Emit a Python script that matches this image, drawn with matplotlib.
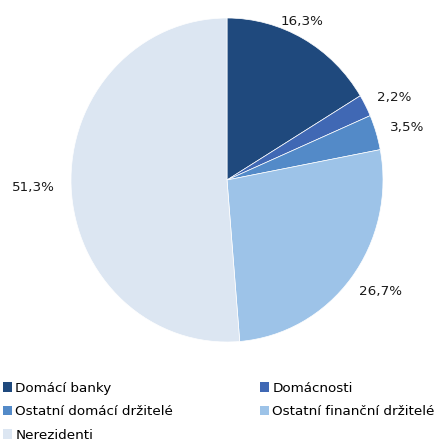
import matplotlib.pyplot as plt
from matplotlib.patches import Patch

labels = ['Domácí banky', 'Domácnosti', 'Ostatní domácí držitelé',
          'Ostatní finanční držitelé', 'Nerezidenti']
shares = [16.3, 2.2, 3.5, 26.7, 51.3]
colors = ['#1f497d', '#4068b4', '#538ac8', '#9dc3e8', '#dce6f2']

W, H = 436, 441
FS = 9.7
fig = plt.figure(figsize=(W / 100, H / 100), dpi=100)

# pie placed in pixel terms: centre (227, 180), radii 156 x 162
cx, cy, rx, ry = 227, 180, 156, 162
ax = fig.add_axes([(cx - rx) / W, (H - cy - ry) / H, 2 * rx / W, 2 * ry / H])
wedges, texts = ax.pie(
    shares, colors=colors, startangle=90, counterclock=False,
    wedgeprops={'linewidth': 0.5, 'edgecolor': 'white'})
ax.set_aspect('auto')
ax.set_xlim(-1, 1)
ax.set_ylim(-1, 1)

# data labels, placed like the original's best-fit labels (pixel centres)
label_px = [(302, 21), (394, 98), (407, 128), (380, 292), (33, 188)]
for s, (px, py) in zip(shares, label_px):
    fig.text(px / W, 1 - py / H, f"{s:.1f}%".replace('.', ','),
             ha='center', va='center', fontsize=FS, color='#1a1a1a')

# row-major order as in the original: reorder for column-first filling
handles = [Patch(facecolor=c, edgecolor='none') for c in colors]
idx = [0, 2, 4, 1, 3]
fig.legend([handles[i] for i in idx], [labels[i] for i in idx],
           ncol=2, loc='upper left', bbox_to_anchor=(0.0, 1 - 379 / H),
           frameon=False, fontsize=FS, handlelength=0.7, handleheight=0.7,
           handletextpad=0.25, columnspacing=6.4, labelspacing=0.78,
           borderpad=0.2, borderaxespad=0)

fig.savefig('out.png', dpi=100)
